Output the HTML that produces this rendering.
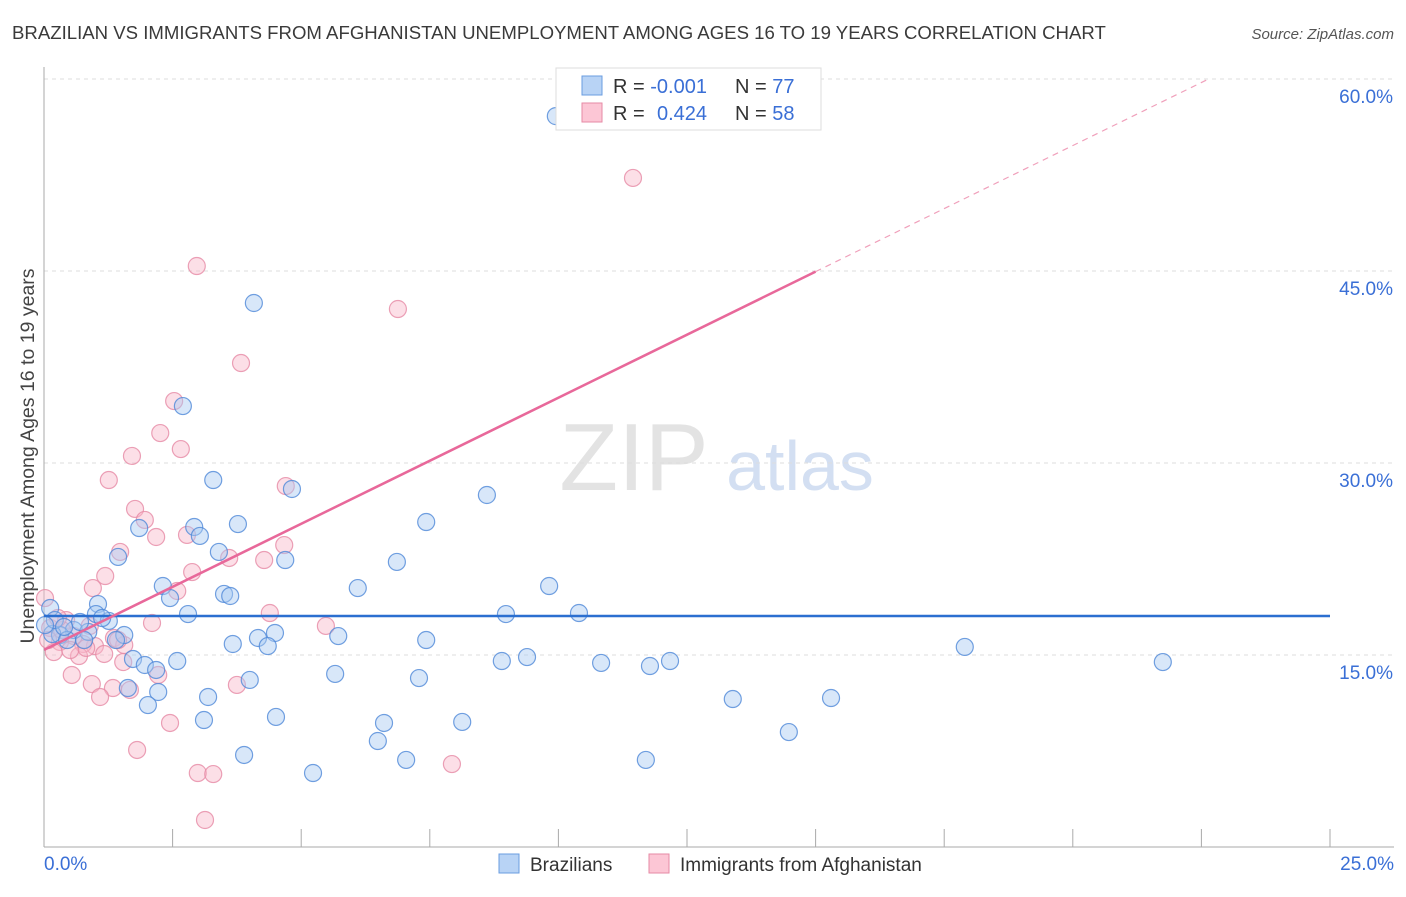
<!DOCTYPE html>
<html><head><meta charset="utf-8">
<style>
body{margin:0;background:#fff;font-family:"Liberation Sans",sans-serif;}
svg text{font-family:"Liberation Sans",sans-serif;}
</style></head>
<body>
<svg id="chart" width="1406" height="892" xmlns="http://www.w3.org/2000/svg">
<text x="12" y="39" font-size="18.6" fill="#3a3a3a">BRAZILIAN VS IMMIGRANTS FROM AFGHANISTAN UNEMPLOYMENT AMONG AGES 16 TO 19 YEARS CORRELATION CHART</text>
<text x="1394" y="39" font-size="15" fill="#555" text-anchor="end" font-style="italic">Source: ZipAtlas.com</text>
<g>
<text x="634" y="490" font-size="96" fill="#ddd" text-anchor="middle" font-family="Liberation Serif" opacity="0.8">ZIP</text>
<text x="800" y="490" font-size="70" fill="#c9d8ef" text-anchor="middle" opacity="0.8">atlas</text>
</g>
<g id="grid"></g>
<g id="axes"></g>
<g id="pts"></g>
<g id="lines"></g>
<text transform="translate(34,456) rotate(-90)" font-size="19.5" fill="#444" text-anchor="middle">Unemployment Among Ages 16 to 19 years</text>
<g>
<rect x="556" y="68" width="265" height="62" fill="#fff" stroke="#ddd"/>
<rect x="582" y="76" width="20" height="19" fill="#b8d3f5" stroke="#6a9de0"/>
<rect x="582" y="103" width="20" height="19" fill="#fcc6d5" stroke="#e68aa5"/>
<text x="613" y="93" font-size="20" fill="#333">R = <tspan fill="#3a6fd6">-0.001</tspan></text>
<text x="735" y="93" font-size="20" fill="#333">N = <tspan fill="#3a6fd6">77</tspan></text>
<text x="613" y="120" font-size="20" fill="#333">R = <tspan fill="#3a6fd6" x="657">0.424</tspan></text>
<text x="735" y="120" font-size="20" fill="#333">N = <tspan fill="#3a6fd6">58</tspan></text>
</g>
<g>
<rect x="499" y="854" width="20" height="19" fill="#b8d3f5" stroke="#6a9de0"/>
<text x="530" y="871" font-size="19" fill="#333">Brazilians</text>
<rect x="649" y="854" width="20" height="19" fill="#fcc6d5" stroke="#e68aa5"/>
<text x="680" y="871" font-size="19" fill="#333">Immigrants from Afghanistan</text>
</g>
</svg>
<script>
const xTicks=[0,2.5,5,7.5,10,12.5,15,17.5,20,22.5,25];
const yTicks=[15,30,45,60];
const yTickLabels=["15.0%","30.0%","45.0%","60.0%"];
const xEndLabels=["0.0%","25.0%"];
const blueX=[9.95,4.08,2.70,3.29,4.82,8.61,1.85,3.77,7.43,2.92,3.03,3.40,1.44,4.69,6.86,2.31,6.10,9.82,2.45,3.50,3.62,2.80,1.05,1.01,1.26,8.98,10.40,1.56,5.72,7.43,4.49,4.16,3.67,4.35,1.40,0.58,0.31,0.16,0.45,0.86,1.73,2.59,1.96,2.18,8.90,9.39,10.83,11.78,12.17,4.00,5.66,7.29,3.19,2.22,1.63,2.02,13.39,15.30,4.51,3.11,6.61,8.13,6.49,3.89,7.04,5.23,11.70,14.48,17.90,21.75,0.12,0.21,0.02,0.70,1.13,0.39,0.78];
const blueY=[57.1,42.5,34.45,28.67,27.97,27.5,24.92,25.23,25.39,25.0,24.3,23.05,22.66,22.42,22.27,20.39,20.23,20.39,19.45,19.77,19.61,18.2,18.98,18.2,17.66,18.2,18.28,16.56,16.48,16.17,16.72,16.33,15.86,15.70,16.17,16.95,16.56,16.64,16.17,16.8,14.69,14.53,14.22,13.83,14.53,14.84,14.38,14.14,14.53,13.05,13.52,13.2,11.72,12.11,12.42,11.09,11.56,11.64,10.16,9.92,9.69,9.77,8.28,7.19,6.8,5.78,6.8,8.98,15.63,14.45,18.67,17.73,17.34,17.58,17.89,17.19,16.17];
const pinkX=[11.45,2.97,6.88,3.83,2.53,2.26,2.66,1.71,1.26,4.70,1.77,1.96,2.18,2.78,1.48,4.67,3.60,4.28,2.88,1.19,0.95,2.59,4.39,2.10,5.48,1.36,1.56,0.99,0.76,0.58,0.31,0.19,0.68,1.17,1.54,0.54,0.93,1.34,1.67,2.22,3.75,1.09,2.45,1.81,2.99,3.29,7.93,3.13,0.02,0.12,0.43,0.82,0.35,0.08,0.51,0.27,0.89,1.44];
const pinkY=[52.27,45.39,42.03,37.81,34.84,32.34,31.09,30.55,28.67,28.2,26.41,25.55,24.22,24.38,23.05,23.59,22.58,22.42,21.48,21.17,20.23,20.0,18.28,17.5,17.27,16.33,15.78,15.70,15.86,16.48,16.02,15.23,14.92,15.08,14.45,13.44,12.73,12.42,12.27,13.44,12.66,11.72,9.69,7.58,5.78,5.70,6.48,2.11,19.45,17.11,17.73,15.55,16.95,16.17,15.39,17.89,17.27,16.17];
const blueTrend=[18.05,0];
const pinkTrend=[15.4,1.97];
const NS="http://www.w3.org/2000/svg";
const X=v=>44+v*51.44, Y=v=>847-v*12.8;
function mk(tag,attrs,parent){const e=document.createElementNS(NS,tag);for(const k in attrs)e.setAttribute(k,attrs[k]);parent.appendChild(e);return e;}
const grid=document.getElementById('grid'),axes=document.getElementById('axes'),pts=document.getElementById('pts'),lines=document.getElementById('lines');
yTicks.forEach((t,i)=>{
 const l=mk('line',{x1:44,x2:1394,y1:Y(t),y2:Y(t),stroke:'#ddd','stroke-dasharray':'4,4'},grid);
 
 
 const tx=mk('text',{x:1393,y:Y(t)+24,'font-size':19,fill:'#3a6fd6','text-anchor':'end'},axes);
 tx.textContent=yTickLabels[i];
 
 
});
const ya=mk('line',{x1:44,x2:44,y1:67,y2:847,stroke:'#aaa'},axes);


const xa=mk('line',{x1:44,x2:1394,y1:847,y2:847,stroke:'#aaa'},axes);


xTicks.forEach(t=>{
 const l=mk('line',{x1:X(t),x2:X(t),y1:829,y2:847,stroke:'#aaa'},axes);
 
 
});
[[0,'start',44],[25,'end',1394]].forEach((d,i)=>{
 const tx=mk('text',{x:d[2],y:870,'font-size':19,fill:'#3a6fd6','text-anchor':d[1]},axes);
 tx.textContent=xEndLabels[i];
 
 
});
function dots(xs,ys,fill,stroke,name){xs.forEach((x,i)=>{
 const c=mk('circle',{cx:X(x),cy:Y(ys[i]),r:8.5,fill:fill,'fill-opacity':0.45,stroke:stroke,'stroke-width':1.2,'stroke-opacity':0.8},pts);
 
 
});}
dots(pinkX,pinkY,'#f9b8ca','#e68aa5','afghanistan-point');
dots(blueX,blueY,'#a9c9f2','#4f88d8','brazilian-point');
const bl=mk('line',{x1:X(0),x2:X(25),y1:Y(blueTrend[0]),y2:Y(blueTrend[0]+blueTrend[1]*25),stroke:'#2b6fd0','stroke-width':2.5},lines);


const pEnd=15, pDash=(60-pinkTrend[0])/pinkTrend[1];
const pl=mk('line',{x1:X(0),x2:X(pEnd),y1:Y(pinkTrend[0]),y2:Y(pinkTrend[0]+pinkTrend[1]*pEnd),stroke:'#e8689a','stroke-width':2.5},lines);


const pd=mk('line',{x1:X(pEnd),x2:X(pDash),y1:Y(pinkTrend[0]+pinkTrend[1]*pEnd),y2:Y(60),stroke:'#f0a0bb','stroke-width':1.2,'stroke-dasharray':'6,5'},lines);


</script>
</body></html>
